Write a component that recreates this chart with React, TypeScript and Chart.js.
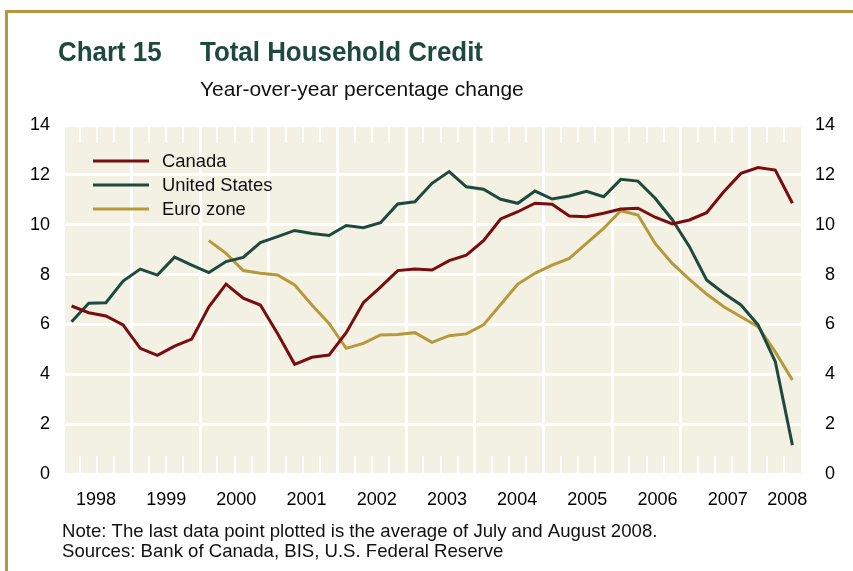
import React, { useEffect, useRef } from "react";
import { Chart, registerables } from "chart.js";

Chart.register(...registerables);

// ---- Data (quarterly, 1998Q1 .. 2008Q3) ----
const yearLabels = ["1998", "1999", "2000", "2001", "2002", "2003", "2004", "2005", "2006", "2007", "2008"];

const canada = [
  6.74, 6.47, 6.34, 5.98, 5.04, 4.76, 5.13, 5.41,
  6.71, 7.62, 7.05, 6.78, 5.64, 4.4, 4.68, 4.77,
  5.67, 6.87, 7.5, 8.16, 8.22, 8.18, 8.56, 8.78,
  9.36, 10.23, 10.52, 10.86, 10.82, 10.35, 10.32, 10.46,
  10.63, 10.66, 10.3, 10.03, 10.19, 10.48, 11.32, 12.06,
  12.29, 12.19, 10.86,
];

const unitedStates = [
  6.11, 6.85, 6.87, 7.74, 8.22, 7.98, 8.7, 8.38,
  8.08, 8.52, 8.69, 9.28, 9.52, 9.77, 9.65, 9.57,
  9.97, 9.88, 10.08, 10.83, 10.92, 11.66, 12.13, 11.52,
  11.42, 11.02, 10.86, 11.35, 11.03, 11.15, 11.34, 11.12,
  11.82, 11.75, 11.06, 10.2, 9.12, 7.78, 7.25, 6.78,
  5.98, 4.51, 1.16,
];

const euroZone = [
  null, null, null, null, null, null, null, null,
  9.36, 8.85, 8.16, 8.05, 7.98, 7.58, 6.78, 6.04,
  5.04, 5.24, 5.58, 5.6, 5.67, 5.28, 5.55, 5.62,
  5.98, 6.8, 7.62, 8.05, 8.38, 8.65, 9.25, 9.85,
  10.56, 10.39, 9.25, 8.45, 7.81, 7.22, 6.71, 6.31,
  5.91, 4.9, 3.77,
];

const seriesNames = ["Canada", "United States", "Euro zone"];
const seriesColors = ["#7A0C0E", "#1E4A3E", "#B8993A"];

const yMin = 0;
const yMax = 14;
const yStep = 2;

const titleLeft = "Chart 15";
const titleRight = "Total Household Credit";
const subtitle = "Year-over-year percentage change";
const noteLine = "Note: The last data point plotted is the average of July and August 2008.";
const sourceLine = "Sources: Bank of Canada, BIS, U.S. Federal Reserve";

const PLOT_BG = "#F3F0E4";
const FRAME = "#B5983A";
const TITLE_COLOR = "#1D4A3D";
const FONT = "'Liberation Sans', Arial, Helvetica, sans-serif";

const toPoints = (arr: (number | null)[]) =>
  arr
    .map((v, i) => (v == null ? null : { x: i + 0.5, y: v }))
    .filter((p) => p !== null) as { x: number; y: number }[];

export default function App() {
  const ref = useRef<HTMLCanvasElement | null>(null);

  useEffect(() => {
    if (!ref.current) return;
    const nQuarters = canada.length;

    const drawCondensed = (ctx: any, text: string, x: number, y: number, sx: number) => {
      ctx.save();
      ctx.translate(x, y);
      ctx.scale(sx, 1);
      ctx.fillText(text, 0, 0);
      ctx.restore();
    };

    const backgroundPlugin = {
      id: "bgPlugin",
      beforeDraw(chart: any) {
        const { ctx, chartArea: a } = chart;
        ctx.save();
        ctx.fillStyle = "#ffffff";
        ctx.fillRect(0, 0, chart.width, chart.height);
        ctx.fillStyle = PLOT_BG;
        ctx.fillRect(a.left, a.top, a.right - a.left, a.bottom - a.top);
        // frame
        ctx.fillStyle = FRAME;
        ctx.fillRect(5, 10, chart.width - 5, 3);
        ctx.fillRect(5, 10, 3, chart.height - 10);
        // titles
        ctx.fillStyle = TITLE_COLOR;
        ctx.textBaseline = "alphabetic";
        ctx.textAlign = "left";
        ctx.font = `bold 28px ${FONT}`;
        drawCondensed(ctx, titleLeft, 58, 61, 0.925);
        drawCondensed(ctx, titleRight, 200, 61, 0.925);
        ctx.fillStyle = "#111";
        ctx.font = `21px ${FONT}`;
        ctx.fillText(subtitle, 200, 96);
        ctx.font = `18.6px ${FONT}`;
        ctx.fillText(noteLine, 62, 537);
        ctx.fillText(sourceLine, 62, 557);
        ctx.restore();
      },
    };

    const quarterTicksPlugin = {
      id: "quarterTicks",
      beforeDatasetsDraw(chart: any) {
        const { ctx, chartArea: a } = chart;
        const xs = chart.scales.x;
        ctx.save();
        ctx.strokeStyle = "#ffffff";
        ctx.lineWidth = 2;
        for (let q = 1; q < nQuarters; q++) {
          if (q % 4 === 0) continue;
          const px = Math.round(xs.getPixelForValue(q));
          ctx.beginPath();
          ctx.moveTo(px, a.top);
          ctx.lineTo(px, a.top + 18);
          ctx.moveTo(px, a.bottom);
          ctx.lineTo(px, a.bottom - 18);
          ctx.stroke();
        }
        ctx.restore();
      },
    };

    const legendPlugin = {
      id: "innerLegend",
      afterDatasetsDraw(chart: any) {
        const { ctx, chartArea: a } = chart;
        ctx.save();
        ctx.font = `18.4px ${FONT}`;
        ctx.textBaseline = "middle";
        ctx.textAlign = "left";
        chart.data.datasets.forEach((ds: any, i: number) => {
          const y = a.top + 36 + i * 24;
          ctx.strokeStyle = ds.borderColor;
          ctx.lineWidth = 3;
          ctx.beginPath();
          ctx.moveTo(a.left + 30, y);
          ctx.lineTo(a.left + 86, y);
          ctx.stroke();
          ctx.fillStyle = "#111";
          ctx.fillText(ds.label, a.left + 99, y + 1);
        });
        ctx.restore();
      },
    };

    const tickFont = { family: FONT, size: 18 };

    const chart = new Chart(ref.current, {
      type: "line",
      data: {
        datasets: [canada, unitedStates, euroZone].map((arr, i) => ({
          label: seriesNames[i],
          data: toPoints(arr),
          borderColor: seriesColors[i],
          backgroundColor: seriesColors[i],
          borderWidth: 3,
          pointRadius: 0,
          tension: 0,
          fill: false,
          borderJoinStyle: "miter" as const,
        })),
      },
      options: {
        animation: false,
        responsive: false,
        maintainAspectRatio: false,
        events: [],
        layout: { padding: { top: 125, left: 0, right: 18, bottom: 0 } },
        plugins: { legend: { display: false }, tooltip: { enabled: false }, title: { display: false } },
        scales: {
          x: {
            type: "linear",
            position: "bottom",
            min: 0,
            max: nQuarters,
            ticks: { display: false, stepSize: 4, includeBounds: false },
            grid: { color: "#ffffff", lineWidth: 3, drawTicks: false },
            border: { display: false },
            afterFit: (s: any) => {
              s.height = 0;
            },
          },
          xl: {
            type: "linear",
            position: "bottom",
            min: 0,
            max: nQuarters,
            grid: { display: false, drawTicks: false },
            border: { display: false },
            ticks: {
              color: "#000",
              font: tickFont,
              padding: 15,
              autoSkip: false,
              maxRotation: 0,
              callback: (_v: any, idx: number) => yearLabels[idx],
            },
            afterBuildTicks: (s: any) => {
              const last = yearLabels.length - 1;
              s.ticks = yearLabels.map((_, k) => ({
                value: k < last ? 1.92 + 4.09 * k : (4 * last + nQuarters) / 2 + 0.7,
              }));
            },
            afterFit: (s: any) => {
              s.height = 97;
            },
          },
          y: {
            position: "left",
            min: yMin,
            max: yMax,
            ticks: { stepSize: yStep, color: "#000", font: tickFont, padding: 13 },
            grid: { color: "#ffffff", lineWidth: 3, drawTicks: false },
            border: { display: false },
            afterFit: (s: any) => {
              s.width = 63;
            },
          },
          y2: {
            position: "right",
            min: yMin,
            max: yMax,
            ticks: { stepSize: yStep, color: "#000", font: tickFont, crossAlign: "far" },
            grid: { display: false, drawTicks: false },
            border: { display: false },
            afterFit: (s: any) => {
              s.width = 34;
            },
          },
        },
      } as any,
      plugins: [backgroundPlugin, quarterTicksPlugin, legendPlugin],
    });

    return () => chart.destroy();
  }, []);

  return (
    <div style={{ position: "absolute", left: 0, top: 0, width: 853, height: 571 }}>
      <canvas ref={ref} width={853} height={571} style={{ display: "block", width: 853, height: 571 }} />
    </div>
  );
}
